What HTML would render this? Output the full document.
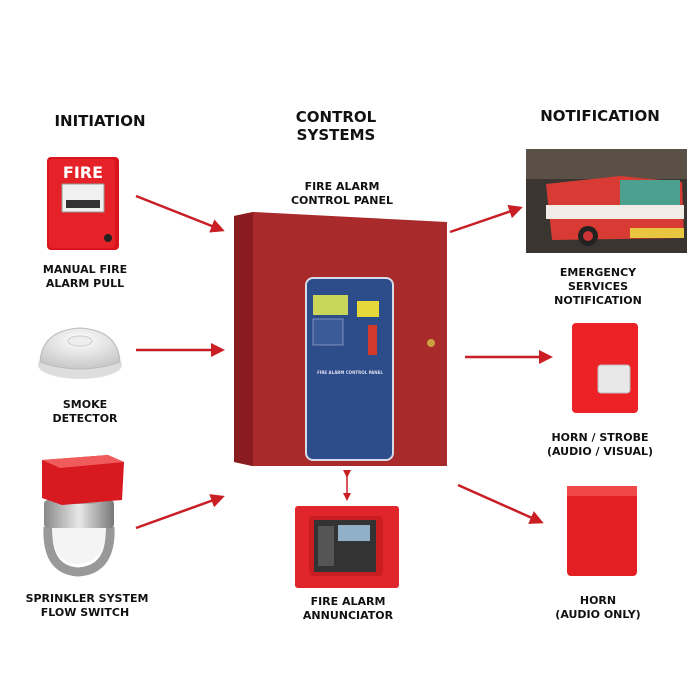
<!DOCTYPE html>
<html><head><meta charset="utf-8"><style>
html,body{margin:0;padding:0;background:#fff}
svg{display:block}
text{font-family:"DejaVu Sans","Liberation Sans",sans-serif;font-weight:bold;fill:#111;text-anchor:middle}
.h{font-size:15px}
.l{font-size:11px}
</style></head><body>
<svg width="690" height="690" viewBox="0 0 690 690" xmlns="http://www.w3.org/2000/svg">
<defs>
<marker id="a" markerWidth="8" markerHeight="8" refX="6" refY="4" orient="auto" markerUnits="userSpaceOnUse" viewBox="0 0 8 8"><path d="M0,0 L8,4 L0,8 z" fill="#c81e24"/></marker>
<marker id="a2" markerWidth="14" markerHeight="14" refX="11" refY="7" orient="auto" markerUnits="userSpaceOnUse"><path d="M0,0 L14,7 L0,14 z" fill="#c81e24"/></marker>
<linearGradient id="pipe" x1="0" x2="1"><stop offset="0" stop-color="#888"/><stop offset=".5" stop-color="#e8e8e8"/><stop offset="1" stop-color="#777"/></linearGradient>
<radialGradient id="dome" cx=".5" cy=".3" r=".7"><stop offset="0" stop-color="#fff"/><stop offset="1" stop-color="#c8c8c8"/></radialGradient>
</defs>

<text class="h" x="100" y="126">INITIATION</text>
<text class="h" x="336" y="122">CONTROL</text>
<text class="h" x="336" y="140">SYSTEMS</text>
<text class="h" x="600" y="121">NOTIFICATION</text>

<!-- Manual pull -->
<rect x="47" y="157" width="72" height="93" rx="4" fill="#d9141c"/>
<rect x="49" y="159" width="66" height="89" rx="3" fill="#e52228"/>
<text x="83" y="178" style="font-size:16px;fill:#fff">FIRE</text>
<rect x="62" y="184" width="42" height="28" fill="#f0f0f0" stroke="#999"/>
<rect x="66" y="200" width="34" height="8" fill="#333"/>
<circle cx="108" cy="238" r="4" fill="#222"/>
<text class="l" x="85" y="273">MANUAL FIRE</text>
<text class="l" x="85" y="287">ALARM PULL</text>

<!-- Smoke detector -->
<ellipse cx="80" cy="365" rx="42" ry="14" fill="#ddd"/>
<path d="M40,362 Q42,330 80,328 Q118,330 120,362 Q80,376 40,362z" fill="url(#dome)" stroke="#bbb"/>
<ellipse cx="80" cy="341" rx="12" ry="5" fill="#eee" stroke="#ccc"/>
<text class="l" x="85" y="408">SMOKE</text>
<text class="l" x="85" y="422">DETECTOR</text>

<!-- Sprinkler -->
<path d="M48,527 Q46,570 78,572 Q112,570 110,527" fill="none" stroke="#999" stroke-width="9"/>
<path d="M52,527 Q52,563 78,564 Q106,563 106,527z" fill="#f4f4f4"/>
<rect x="44" y="500" width="70" height="28" rx="4" fill="url(#pipe)"/>
<rect x="60" y="490" width="40" height="14" fill="#aaa"/>
<path d="M42,460 L108,455 L124,462 L122,500 L62,505 L42,498z" fill="#d8191f"/>
<path d="M42,460 L108,455 L124,462 L60,468z" fill="#ef5a5a"/>
<text class="l" x="87" y="602">SPRINKLER SYSTEM</text>
<text class="l" x="85" y="616">FLOW SWITCH</text>

<!-- Control panel -->
<text class="l" x="342" y="190">FIRE ALARM</text>
<text class="l" x="342" y="204">CONTROL PANEL</text>
<path d="M234,216 L253,212 L447,222 L447,466 L252,466 L234,462z" fill="#a82a2b"/>
<path d="M234,216 L253,212 L253,466 L234,462z" fill="#8a1c1f"/>
<rect x="306" y="278" width="87" height="182" rx="7" fill="#2d4c8a" stroke="#d7dbe8" stroke-width="2"/>
<rect x="313" y="295" width="35" height="20" fill="#c9d65a"/>
<rect x="357" y="301" width="22" height="16" fill="#e4d83a"/>
<rect x="313" y="319" width="30" height="26" fill="#3b5a98" stroke="#9fb0d5" stroke-width=".7"/>
<rect x="368" y="325" width="9" height="30" fill="#d33a2c"/>
<text x="350" y="374" style="font-size:4px;fill:#dde">FIRE ALARM CONTROL PANEL</text>
<circle cx="431" cy="343" r="4" fill="#c9a040"/>

<!-- Annunciator -->
<rect x="295" y="506" width="104" height="82" rx="3" fill="#e0262b"/>
<rect x="309" y="516" width="74" height="60" rx="4" fill="#c91d22"/>
<rect x="314" y="520" width="62" height="52" fill="#333"/>
<rect x="338" y="525" width="32" height="16" fill="#8fb0c8"/>
<rect x="318" y="526" width="16" height="40" fill="#555"/>
<text class="l" x="348" y="605">FIRE ALARM</text>
<text class="l" x="348" y="619">ANNUNCIATOR</text>

<!-- Fire truck photo -->
<rect x="526" y="149" width="161" height="104" fill="#3a3530"/>
<rect x="526" y="149" width="161" height="30" fill="#5b5045"/>
<path d="M546,184 L620,176 L682,182 L684,238 L552,240z" fill="#d83a34"/>
<rect x="620" y="180" width="60" height="26" fill="#4ca090"/>
<rect x="546" y="205" width="138" height="14" fill="#f2ece6"/>
<circle cx="588" cy="236" r="10" fill="#222"/>
<circle cx="588" cy="236" r="5" fill="#c33"/>
<rect x="630" y="228" width="54" height="10" fill="#e8c640"/>
<text class="l" x="598" y="276">EMERGENCY</text>
<text class="l" x="598" y="290">SERVICES</text>
<text class="l" x="598" y="304">NOTIFICATION</text>

<!-- Horn strobe -->
<rect x="572" y="323" width="66" height="90" rx="4" fill="#ec2226"/>
<rect x="598" y="365" width="32" height="28" rx="3" fill="#e8e8e8" stroke="#bbb"/>
<text class="l" x="600" y="441">HORN / STROBE</text>
<text class="l" x="600" y="455">(AUDIO / VISUAL)</text>

<!-- Horn -->
<rect x="567" y="486" width="70" height="90" rx="4" fill="#e41f23"/>
<rect x="567" y="486" width="70" height="10" fill="#f04848"/>
<text class="l" x="598" y="604">HORN</text>
<text class="l" x="598" y="618">(AUDIO ONLY)</text>

<!-- Arrows -->
<g stroke="#c81e24" stroke-width="2.5" fill="none">
<line x1="136" y1="196" x2="222" y2="230" marker-end="url(#a2)"/>
<line x1="136" y1="350" x2="222" y2="350" marker-end="url(#a2)"/>
<line x1="136" y1="528" x2="222" y2="497" marker-end="url(#a2)"/>
<line x1="450" y1="232" x2="520" y2="208" marker-end="url(#a2)"/>
<line x1="465" y1="357" x2="550" y2="357" marker-end="url(#a2)"/>
<line x1="458" y1="485" x2="541" y2="522" marker-end="url(#a2)"/>
<line x1="347" y1="476" x2="347" y2="499" stroke-width="1.5" marker-end="url(#a)" marker-start="url(#a)"/>
</g>
</svg>
</body></html>
